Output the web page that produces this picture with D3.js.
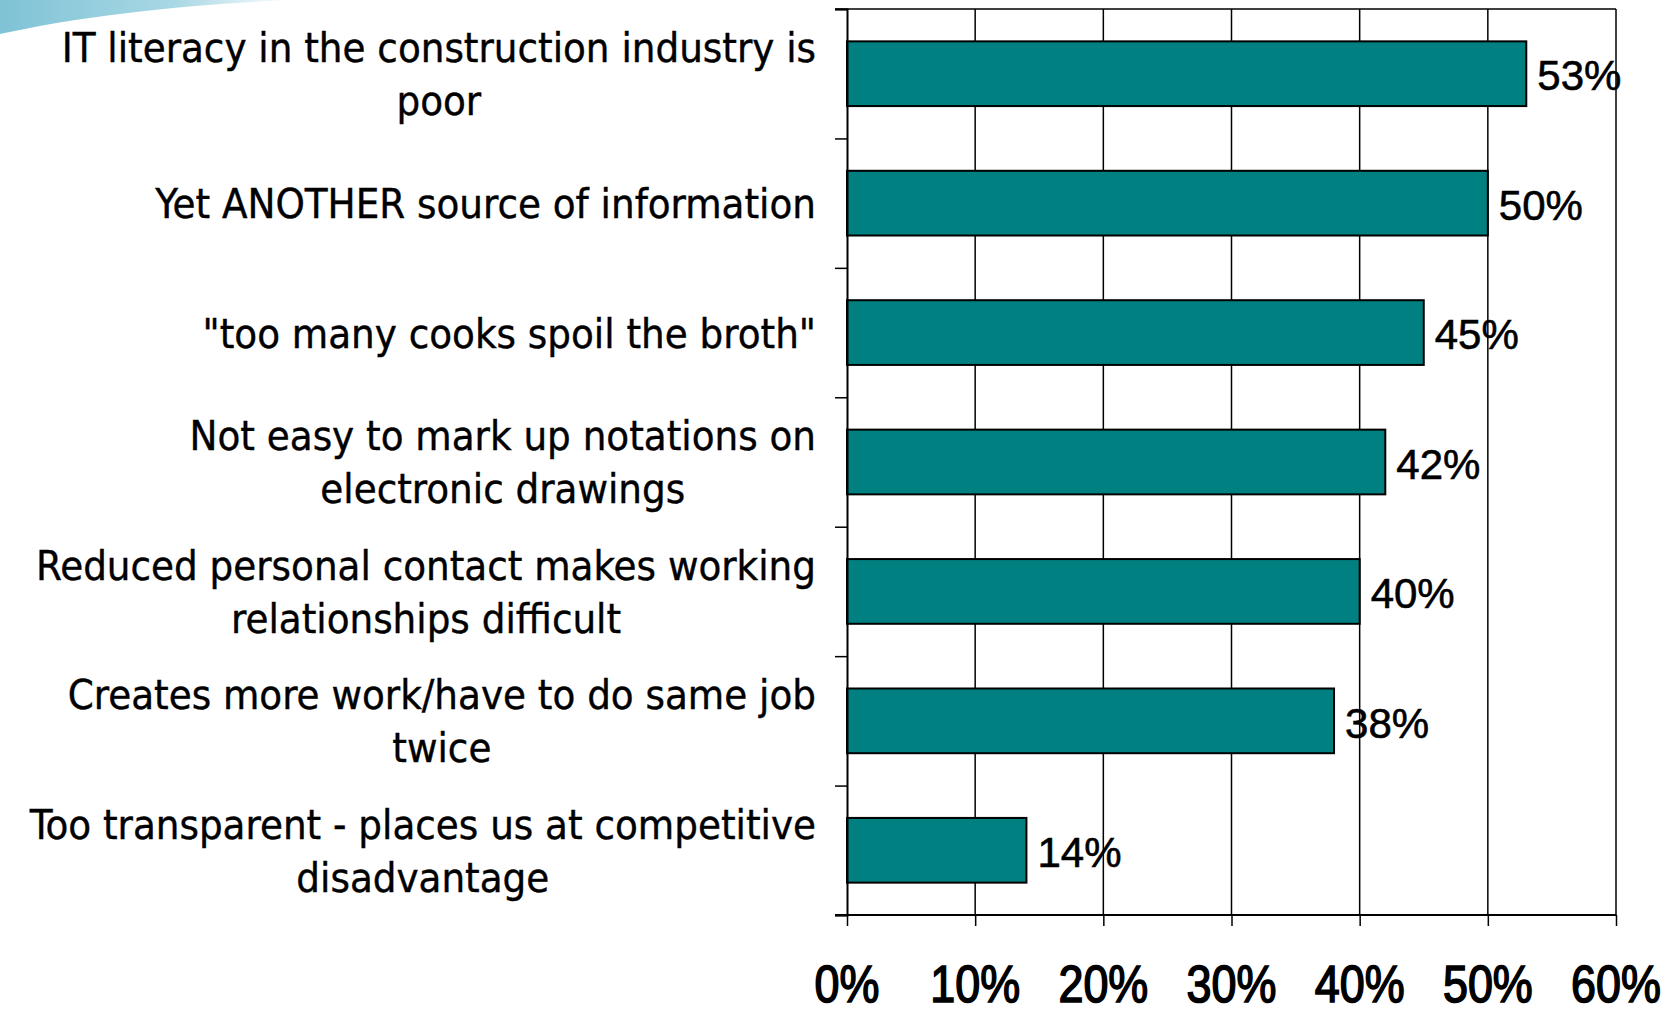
<!DOCTYPE html>
<html>
<head>
<meta charset="utf-8">
<script src="https://cdn.jsdelivr.net/npm/d3@7"></script>
<style>
  body { margin: 0; background: #fff; }
  svg { display: block; }
  text { font-family: "DejaVu Sans Condensed", "DejaVu Sans", sans-serif; fill: #000; }
  text.tick-label { font-family: "Liberation Sans", Arial, sans-serif; }
</style>
</head>
<body>
<div class="bar-chart"></div>
<script>
// survey answers, top to bottom; each entry is the lines of the label
const categories = [
  ['IT literacy in the construction industry is', 'poor'],
  ['Yet ANOTHER source of information'],
  ['"too many cooks spoil the broth"'],
  ['Not easy to mark up notations on', 'electronic drawings'],
  ['Reduced personal contact makes working', 'relationships difficult'],
  ['Creates more work/have to do same job', 'twice'],
  ['Too transparent - places us at competitive', 'disadvantage']
];
const values = [53, 50, 45, 42, 40, 38, 14];
const xTicks = [0, 10, 20, 30, 40, 50, 60];

const width = 1679, height = 1014;
const margin = {top: 9, right: 63, bottom: 99, left: 847};
const w = width - margin.left - margin.right;
const h = height - margin.top - margin.bottom;

let svg = d3.select('.bar-chart').append('svg')
  .attr('width', width)
  .attr('height', height);

// blue swoosh in the corner
let defs = svg.append('defs');
let grad = defs.append('linearGradient').attr('id', 'swoosh')
  .attr('x1', 0).attr('y1', 0).attr('x2', 1).attr('y2', 0);
grad.append('stop').attr('offset', 0).attr('stop-color', '#7fc3d6');
grad.append('stop').attr('offset', 0.6).attr('stop-color', '#a9d8e4');
grad.append('stop').attr('offset', 1).attr('stop-color', '#ffffff');
svg.append('path')
  .attr('d', 'M0,0 L295,0 C205,3 90,14 0,34 Z')
  .attr('fill', 'url(#swoosh)');

let g = svg.append('g')
  .attr('transform', 'translate(' + margin.left + ',' + margin.top + ')');

let x = d3.scaleLinear().domain([0, 60]).range([0, w]);
let y = d3.scaleBand()
  .domain(d3.range(categories.length))
  .range([0, h])
  .paddingInner(0.5)
  .paddingOuter(0.25);

// vertical grid lines + right border
g.selectAll('.grid')
  .data(xTicks.slice(1))
  .enter().append('line')
  .attr('x1', d => x(d)).attr('x2', d => x(d))
  .attr('y1', 0).attr('y2', h)
  .attr('stroke', '#000').attr('stroke-width', 1.5);

// top border
g.append('line')
  .attr('x1', -12).attr('x2', w)
  .attr('y1', 0).attr('y2', 0)
  .attr('stroke', '#000').attr('stroke-width', 1.5);

// bars
g.selectAll('.bar')
  .data(values)
  .enter().append('rect')
  .attr('class', 'bar')
  .attr('x', 0)
  .attr('y', (d, i) => y(i))
  .attr('width', d => x(d))
  .attr('height', y.bandwidth())
  .attr('fill', '#008080')
  .attr('stroke', '#000')
  .attr('stroke-width', 2);

// left axis with ticks on category boundaries
let yEdge = d3.scaleLinear().domain([0, categories.length]).range([0, h]);
let yAxis = g.append('g')
  .call(d3.axisLeft(yEdge).ticks(categories.length).tickSize(12).tickFormat(''));
yAxis.select('.domain').attr('stroke-width', 2);
yAxis.selectAll('line').attr('stroke-width', 1.5);

// bottom axis
let xAxis = g.append('g')
  .attr('transform', 'translate(0,' + h + ')')
  .call(d3.axisBottom(x).tickValues(xTicks).tickSize(11).tickFormat(''));
xAxis.select('.domain').remove();
xAxis.selectAll('line').attr('stroke-width', 1.5);
g.append('line')
  .attr('x1', -12).attr('x2', w)
  .attr('y1', h).attr('y2', h)
  .attr('stroke', '#000').attr('stroke-width', 2);

g.selectAll('.xlabel')
  .data(xTicks)
  .enter().append('text')
  .attr('class', 'tick-label')
  .attr('transform', d => 'translate(' + x(d) + ',' + (h + 87) + ') scale(0.88,1)')
  .attr('text-anchor', 'middle')
  .attr('stroke', '#000').attr('stroke-width', 1.6)
  .style('font-size', '51px')
  .text(d => d + '%');

// value labels
g.selectAll('.value')
  .data(values)
  .enter().append('text')
  .attr('class', 'tick-label')
  .attr('x', d => x(d) + 11)
  .attr('y', (d, i) => y(i) + y.bandwidth() / 2 + 2)
  .attr('dy', '0.35em')
  .attr('stroke', '#000').attr('stroke-width', 0.6)
  .style('font-size', '42px')
  .text(d => d + '%');

// category labels: lines centred inside a right-aligned block
const lineGap = 53;
categories.forEach((lines, i) => {
  let cy = y(i) + y.bandwidth() / 2;
  let lab = g.append('text')
    .style('font-size', '41.5px')
    .attr('text-anchor', 'middle')
    .attr('stroke', '#000').attr('stroke-width', 0.4);
  let spans = lines.map((t, k) => lab.append('tspan')
    .attr('y', cy + (k - (lines.length - 1) / 2) * lineGap)
    .attr('dy', '0.36em')
    .text(t));
  let maxW = d3.max(spans, s => s.node().getComputedTextLength());
  spans.forEach(s => s.attr('x', -31 - maxW / 2));
});
</script>
</body>
</html>
